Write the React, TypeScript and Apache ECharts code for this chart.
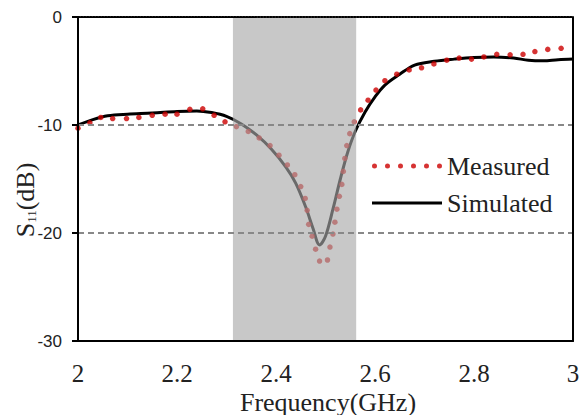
import React, { useEffect, useRef } from "react";
import * as echarts from "echarts";

// Simulated S11 (solid black)
const simFreq = [2.0, 2.03, 2.06, 2.1, 2.15, 2.2, 2.24, 2.27, 2.3, 2.33, 2.36, 2.39, 2.42, 2.44, 2.46, 2.475, 2.488, 2.5, 2.515, 2.53, 2.545, 2.56, 2.58, 2.6, 2.62, 2.65, 2.68, 2.72, 2.76, 2.8, 2.84, 2.88, 2.91, 2.94, 2.97, 3.0];
const simS11 = [-10.0, -9.5, -9.15, -9.0, -8.9, -8.75, -8.7, -8.85, -9.2, -9.9, -10.9, -12.2, -13.9, -15.4, -17.6, -19.6, -21.1, -20.3, -17.8, -15.0, -12.5, -10.6, -8.8, -7.4, -6.3, -5.3, -4.45, -4.1, -3.9, -3.75, -3.7, -3.8, -4.0, -4.05, -3.95, -3.9];

// Measured S11 (red dots)
const measFreq = [2.0, 2.024, 2.046, 2.07, 2.098, 2.123, 2.15, 2.176, 2.2, 2.226, 2.252, 2.275, 2.297, 2.32, 2.344, 2.366, 2.388, 2.406, 2.423, 2.438, 2.45, 2.459, 2.463, 2.466, 2.473, 2.48, 2.488, 2.504, 2.509, 2.515, 2.519, 2.523, 2.528, 2.533, 2.536, 2.539, 2.543, 2.549, 2.558, 2.571, 2.586, 2.602, 2.62, 2.644, 2.669, 2.694, 2.719, 2.745, 2.77, 2.795, 2.82, 2.846, 2.873, 2.899, 2.923, 2.949, 2.976];
const measS11 = [-10.3, -9.8, -9.3, -9.4, -9.4, -9.3, -9.1, -9.0, -9.0, -8.55, -8.5, -9.1, -9.7, -10.15, -10.6, -11.2, -11.9, -12.8, -13.7, -14.6, -15.7, -16.8, -17.9, -19.2, -20.3, -21.5, -22.6, -22.5, -21.3, -20.1, -19.0, -17.8, -16.6, -15.5, -14.3, -13.1, -11.9, -10.8, -9.7, -8.6, -7.7, -6.76, -5.9, -5.3, -4.9, -4.7, -4.35, -4.0, -3.8, -3.9, -3.7, -3.45, -3.5, -3.45, -3.2, -3.0, -2.9];

// Shaded band (GHz)
const bandRange = [2.313, 2.562];

const xRange = [2, 3];
const yRange = [-30, 0];

const SERIF = "'Liberation Serif', 'Times New Roman', serif";
const SANS = "'Liberation Sans', Arial, sans-serif";

function dotsIcon(): string {
  let d = "";
  const r = 2.5;
  for (let i = 0; i < 6; i++) {
    const cx = r + i * 13;
    d += `M${cx - r},${r}a${r},${r} 0 1,0 ${2 * r},0a${r},${r} 0 1,0 ${-2 * r},0Z`;
  }
  return "path://" + d;
}

export default function App() {
  const ref = useRef<HTMLDivElement>(null);
  useEffect(() => {
    if (!ref.current) return;
    const chart = echarts.init(ref.current, undefined, { renderer: "svg" });
    const simData = simFreq.map((f, i) => [f, simS11[i]]);
    const measData = measFreq.map((f, i) => [f, measS11[i]]);
    chart.setOption({
      animation: false,
      backgroundColor: "#fff",
      grid: { left: 78, right: 12, top: 17, bottom: 74, containLabel: false },
      xAxis: [
        {
          type: "value",
          min: xRange[0],
          max: xRange[1],
          interval: 0.2,
          z: 20,
          axisLine: { show: true, onZero: false, lineStyle: { color: "#000", width: 2 } },
          axisTick: { show: false },
          splitLine: { show: false },
          axisLabel: {
            margin: 20,
            fontFamily: SERIF,
            fontSize: 25,
            color: "#222",
            formatter: (v: number) => String(+v.toFixed(1)),
          },
        },
        {
          type: "value",
          position: "top",
          min: xRange[0],
          max: xRange[1],
          z: 20,
          axisLine: { show: true, onZero: false, lineStyle: { color: "#000", width: 2, type: [1.5, 1.5] } },
          axisTick: { show: false },
          axisLabel: { show: false },
          splitLine: { show: false },
        },
      ],
      yAxis: [
        {
          type: "value",
          min: yRange[0],
          max: yRange[1],
          interval: 10,
          z: 20,
          axisLine: { show: true, onZero: false, lineStyle: { color: "#000", width: 2 } },
          axisTick: { show: true, length: 6, lineStyle: { color: "#000", width: 2 } },
          axisLabel: { margin: 16, fontFamily: SANS, fontSize: 17, color: "#222" },
          splitLine: {
            show: true,
            showMinLine: false,
            showMaxLine: false,
            lineStyle: { color: "#888", width: 2, type: [6, 4] },
          },
        },
        {
          type: "value",
          position: "right",
          min: yRange[0],
          max: yRange[1],
          z: 20,
          axisLine: { show: true, onZero: false, lineStyle: { color: "#000", width: 2 } },
          axisTick: { show: false },
          axisLabel: { show: false },
          splitLine: { show: false },
        },
      ],
      legend: {
        orient: "vertical",
        left: 372,
        top: 152,
        padding: 0,
        itemWidth: 70,
        itemHeight: 5,
        itemGap: 9,
        symbolKeepAspect: true,
        textStyle: { fontFamily: SERIF, fontSize: 26, color: "#222", lineHeight: 28 },
        data: [
          { name: "Measured", icon: dotsIcon(), itemStyle: { color: "#cc0000" } },
          { name: "Simulated", icon: "path://M0,0h70v3h-70z", itemStyle: { color: "#000" } },
        ],
      },
      graphic: [
        {
          type: "text",
          x: 328,
          y: 402,
          style: {
            text: "Frequency(GHz)",
            font: `26px ${SERIF}`,
            fill: "#222",
            align: "center",
            verticalAlign: "middle",
          },
        },
        {
          type: "text",
          x: 25,
          y: 200,
          rotation: Math.PI / 2,
          style: {
            text: "{s|S}{sub|11}{s|(dB)}",
            align: "center",
            verticalAlign: "middle",
            fill: "#222",
            rich: {
              s: { fontFamily: SERIF, fontSize: 26, fill: "#222", verticalAlign: "bottom" },
              sub: { fontFamily: SERIF, fontSize: 13, fill: "#222", verticalAlign: "bottom" },
            },
          },
        },
      ],
      series: [
        {
          name: "Simulated",
          type: "line",
          data: simData,
          smooth: 0.35,
          showSymbol: false,
          symbol: "none",
          z: 2,
          lineStyle: { color: "#000", width: 3 },
          itemStyle: { color: "#000" },
        },
        {
          name: "Measured",
          type: "scatter",
          data: measData,
          symbol: "circle",
          symbolSize: 5.5,
          z: 3,
          itemStyle: { color: "#cc0000" },
        },
        {
          name: "band",
          type: "line",
          data: [],
          z: 10,
          markArea: {
            silent: true,
            z: 10,
            itemStyle: { color: "rgba(168,168,168,0.63)" },
            data: [[{ xAxis: bandRange[0], yAxis: yRange[0] }, { xAxis: bandRange[1], yAxis: yRange[1] }]],
          },
        },
      ],
    });
    return () => chart.dispose();
  }, []);
  return <div ref={ref} style={{ position: "fixed", left: 0, top: 0, width: 585, height: 415 }} />;
}
